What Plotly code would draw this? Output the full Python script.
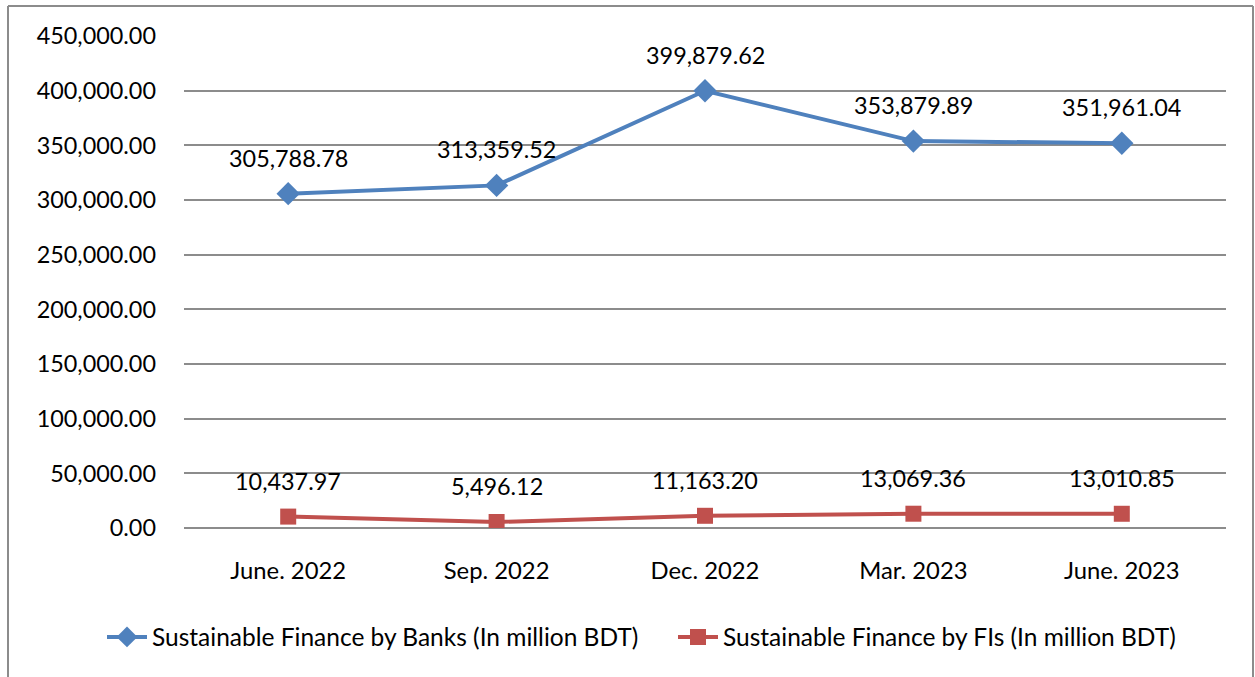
import plotly.graph_objects as go

categories = ["June. 2022", "Sep. 2022", "Dec. 2022", "Mar. 2023", "June. 2023"]
banks = [305788.78, 313359.52, 399879.62, 353879.89, 351961.04]
fis = [10437.97, 5496.12, 11163.20, 13069.36, 13010.85]
banks_name = "Sustainable Finance by Banks (In million BDT)"
fis_name = "Sustainable Finance by FIs (In million BDT)"
y_ticks = [0, 50000, 100000, 150000, 200000, 250000, 300000, 350000, 400000, 450000]

FONT = "Lato"
BLUE = "#4F81BD"
RED = "#C0504D"

fig = go.Figure()
fig.add_trace(go.Scatter(
    x=categories, y=banks, mode="lines+markers", name=banks_name,
    line=dict(color=BLUE, width=4),
    marker=dict(symbol="diamond", size=18, color=BLUE),
    legend="legend",
))
fig.add_trace(go.Scatter(
    x=categories, y=fis, mode="lines+markers", name=fis_name,
    line=dict(color=RED, width=4),
    marker=dict(symbol="square", size=16, color=RED),
    legend="legend2",
))

annotations = []
for c, v in zip(categories, banks):
    annotations.append(dict(x=c, y=v, text=f"{v:,.2f}", showarrow=False,
                            yshift=36, font=dict(family=FONT, size=23.4, color="black")))
for c, v in zip(categories, fis):
    annotations.append(dict(x=c, y=v, text=f"{v:,.2f}", showarrow=False,
                            yshift=36, font=dict(family=FONT, size=23.4, color="black")))

L, R, T, B = 184, 1226, 36, 528
W, H = 1255, 677

def px_x(p):
    return (p - L) / (R - L)

def px_y(p):
    return (B - p) / (B - T)

legend_common = dict(orientation="h", xanchor="left", y=px_y(637), yanchor="middle",
                     font=dict(family=FONT, size=24.5, color="black"), itemwidth=40,
                     bgcolor="rgba(0,0,0,0)")

fig.update_layout(
    width=W, height=H,
    margin=dict(l=L, r=W - R, t=T, b=H - B),
    paper_bgcolor="white", plot_bgcolor="white",
    font=dict(family=FONT, size=23.4, color="black"),
    showlegend=True,
    legend=dict(x=px_x(102), **legend_common),
    legend2=dict(x=px_x(673), **legend_common),
    annotations=annotations,
    shapes=[
        dict(type="line", xref="paper", yref="paper", x0=px_x(8), x1=px_x(8), y0=px_y(6), y1=px_y(700),
             line=dict(color="#8c8c8c", width=2)),
        dict(type="line", xref="paper", yref="paper", x0=px_x(8), x1=px_x(1253), y0=px_y(6), y1=px_y(6),
             line=dict(color="#8c8c8c", width=2)),
        dict(type="line", xref="paper", yref="paper", x0=px_x(1253), x1=px_x(1253), y0=px_y(6), y1=px_y(700),
             line=dict(color="#8c8c8c", width=2)),
    ],
)
fig.update_xaxes(type="category", range=[-0.5, 4.5], showgrid=False, showline=False,
                 ticks="", ticklabelstandoff=26, tickfont=dict(family=FONT, size=23.8))
fig.update_yaxes(range=[0, 450000], tickvals=y_ticks,
                 ticktext=[f"{v:,.2f}" for v in y_ticks],
                 showgrid=True, gridcolor="#8c8c8c", gridwidth=1.5,
                 zeroline=True, zerolinecolor="#8c8c8c", zerolinewidth=1.5,
                 showline=False, ticks="", ticklabelstandoff=27,
                 tickfont=dict(family=FONT, size=23.4))

fig.write_html("out.html")
